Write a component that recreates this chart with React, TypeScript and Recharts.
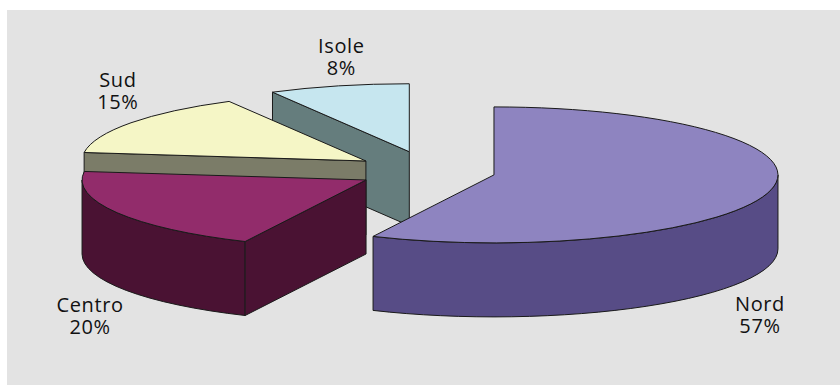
import { PieChart, Pie } from 'recharts';

// Quota per ripartizione (%), in ordine di disegno: prima le fette dietro
const regions = ['Isole', 'Sud', 'Centro', 'Nord'];
const shares = [8, 15, 20, 57];

const data = regions.map((name, i) => ({ name, value: shares[i] }));

// stile delle fette
const TOP_COLORS: Record<string, string> = {
  Isole: '#c6e6ef',
  Sud: '#f5f6c6',
  Centro: '#922c6b',
  Nord: '#8e84c0',
};
const SIDE_COLORS: Record<string, string> = {
  Isole: '#657d7d',
  Sud: '#7b7c68',
  Centro: '#4a1233',
  Nord: '#574c86',
};
// quanto ogni fetta è staccata dal centro (frazione del raggio)
const EXPLODE: Record<string, number> = { Isole: 0.3, Sud: 0.275, Centro: 0.259, Nord: 0.229 };
// posizione etichetta rispetto al centro della fetta staccata
const LABEL_OFFSET: Record<string, [number, number]> = {
  Isole: [-68, -99],
  Sud: [-248, -74],
  Centro: [-276, 132],
  Nord: [266, 136],
};

const TILT = 0.2394; // ry / rx
const DEPTH = 74;
const RAD = Math.PI / 180;
const EDGE = '#1a1a1a';

type Pt = [number, number];

function onRim(cx: number, cy: number, rx: number, ry: number, a: number): Pt {
  return [cx + rx * Math.cos(a * RAD), cy - ry * Math.sin(a * RAD)];
}

function sliceCenter(cx: number, cy: number, r: number, mid: number, name: string): Pt {
  const k = EXPLODE[name] ?? 0;
  return [cx + k * r * Math.cos(mid * RAD), cy - k * r * TILT * Math.sin(mid * RAD)];
}

const f = (p: Pt) => `${p[0].toFixed(2)},${p[1].toFixed(2)}`;
const down = (p: Pt): Pt => [p[0], p[1] + DEPTH];

function Slice3D(props: any) {
  const { cx, cy, outerRadius, startAngle, endAngle } = props;
  const name: string = props.payload?.name ?? props.name;
  const lo = Math.min(startAngle, endAngle);
  const hi = Math.max(startAngle, endAngle);
  const rx = outerRadius;
  const ry = outerRadius * TILT;
  const c = sliceCenter(cx, cy, outerRadius, (lo + hi) / 2, name);
  const P = (a: number) => onRim(c[0], c[1], rx, ry, a);

  const top = TOP_COLORS[name];
  const side = SIDE_COLORS[name];
  const parts: JSX.Element[] = [];

  // parete esterna visibile (parte davanti, 180°..360°)
  for (let k = 0; k < 2; k++) {
    const a1 = Math.max(lo, 180 + 360 * k);
    const a2 = Math.min(hi, 360 + 360 * k);
    if (a2 > a1) {
      const d = `M${f(P(a1))} A${rx},${ry} 0 0 0 ${f(P(a2))} L${f(down(P(a2)))} A${rx},${ry} 0 0 1 ${f(down(P(a1)))} Z`;
      parts.push(<path key={`w${k}`} d={d} fill={side} stroke={EDGE} strokeWidth={1} strokeLinejoin="round" />);
    }
  }
  // facce radiali
  const face = (a: number, key: string) => {
    const p = P(a);
    const d = `M${f(c)} L${f(p)} L${f(down(p))} L${f(down(c))} Z`;
    return <path key={key} d={d} fill={side} stroke={EDGE} strokeWidth={1} strokeLinejoin="round" />;
  };
  if (Math.cos(lo * RAD) > 0.001) parts.push(face(lo, 'fs'));
  if (Math.cos(hi * RAD) < -0.001) parts.push(face(hi, 'fe'));

  // faccia superiore
  const large = hi - lo > 180 ? 1 : 0;
  const dTop = `M${f(c)} L${f(P(lo))} A${rx},${ry} 0 ${large} 0 ${f(P(hi))} Z`;
  parts.push(<path key="t" d={dTop} fill={top} stroke={EDGE} strokeWidth={1} strokeLinejoin="round" />);

  return <g>{parts}</g>;
}

function renderLabel(props: any) {
  const { cx, cy, outerRadius, midAngle, value } = props;
  const name: string = props.payload?.name ?? props.name;
  const c = sliceCenter(cx, cy, outerRadius, midAngle, name);
  const [dx, dy] = LABEL_OFFSET[name] ?? [0, 0];
  const x = c[0] + dx;
  const y = c[1] + dy;
  return (
    <text
      x={x}
      y={y}
      textAnchor="middle"
      fill="#111"
      fontSize={20}
      fontFamily="'Open Sans', sans-serif"
      letterSpacing={0.6}
    >
      <tspan x={x} y={y}>{name}</tspan>
      <tspan x={x} y={y + 22}>{`${value}%`}</tspan>
    </text>
  );
}

export default function App() {
  return (
    <div style={{ position: 'absolute', left: 0, top: 0, width: 840, height: 385, background: '#fff' }}>
      <div style={{ position: 'absolute', left: 7, top: 10, width: 833, height: 375, background: '#e3e3e3' }} />
      <div style={{ position: 'absolute', left: 0, top: 0 }}>
        <PieChart width={840} height={385} margin={{ top: 0, right: 0, bottom: 0, left: 0 }}>
          <Pie
            data={data}
            dataKey="value"
            nameKey="name"
            cx={430.5}
            cy={171.5}
            outerRadius={284}
            startAngle={90}
            endAngle={450}
            stroke="none"
            fill="none"
            shape={Slice3D}
            activeShape={Slice3D}
            inactiveShape={Slice3D}
            label={renderLabel}
            labelLine={false}
            isAnimationActive={false}
          />
        </PieChart>
      </div>
    </div>
  );
}
